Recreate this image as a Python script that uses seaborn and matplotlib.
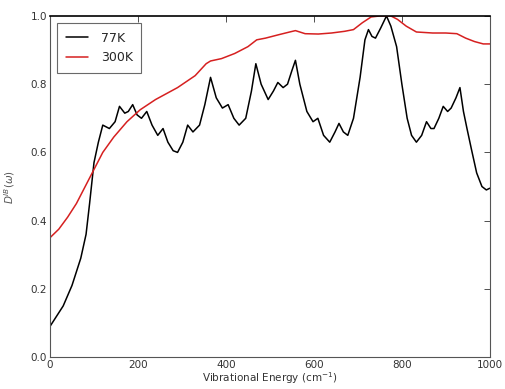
import matplotlib
matplotlib.use("Agg")
import matplotlib.pyplot as plt
import seaborn as sns
import pandas as pd

# Vibrational density of states at 77 K
energy_77 = [0, 10, 20, 30, 40, 50, 60, 70, 82, 90, 100, 110, 120, 135, 148, 158,
             170, 178, 188, 198, 208, 220, 232, 245, 257, 268, 280, 290, 302, 313,
             325, 340, 352, 365, 378, 392, 405, 418, 430, 445, 458, 468, 480, 496,
             508, 518, 530, 540, 550, 558, 568, 584, 598, 609, 622, 636, 648, 657,
             667, 677, 690, 705, 716, 724, 732, 740, 752, 765, 775, 788, 800, 812,
             822, 833, 845, 856, 866, 873, 884, 894, 904, 912, 923, 932, 940, 948,
             958, 970, 982, 992, 1000]
dos_77 = [0.09, 0.11, 0.13, 0.15, 0.18, 0.21, 0.25, 0.29, 0.36, 0.45, 0.57, 0.63,
          0.68, 0.67, 0.69, 0.735, 0.715, 0.72, 0.74, 0.71, 0.70, 0.72, 0.68, 0.65,
          0.67, 0.63, 0.605, 0.60, 0.63, 0.68, 0.66, 0.68, 0.74, 0.82, 0.76, 0.73,
          0.74, 0.70, 0.68, 0.70, 0.78, 0.86, 0.80, 0.755, 0.78, 0.805, 0.79, 0.80,
          0.84, 0.87, 0.80, 0.72, 0.69, 0.70, 0.65, 0.63, 0.66, 0.685, 0.66, 0.65,
          0.70, 0.82, 0.93, 0.96, 0.94, 0.935, 0.965, 1.00, 0.97, 0.91, 0.80, 0.70,
          0.65, 0.63, 0.65, 0.69, 0.67, 0.67, 0.70, 0.735, 0.72, 0.73, 0.76, 0.79,
          0.72, 0.67, 0.61, 0.54, 0.50, 0.49, 0.495]

# Vibrational density of states at 300 K
energy_300 = [0, 20, 40, 60, 80, 100, 120, 145, 175, 205, 240, 290, 330, 355, 365,
              390, 420, 450, 470, 490, 520, 545, 558, 580, 610, 640, 670, 690, 710,
              730, 750, 775, 790, 810, 833, 870, 900, 925, 945, 965, 985, 1000]
dos_300 = [0.35, 0.375, 0.41, 0.45, 0.50, 0.55, 0.60, 0.645, 0.69, 0.725, 0.755,
           0.79, 0.825, 0.86, 0.868, 0.875, 0.89, 0.91, 0.93, 0.935, 0.945, 0.953,
           0.957, 0.948, 0.947, 0.95, 0.955, 0.96, 0.98, 0.997, 1.0, 1.0, 0.99,
           0.97, 0.953, 0.95, 0.95, 0.948, 0.935, 0.925, 0.918, 0.918]

series_labels = ["77K", "300K"]
x_ticks = [0, 200, 400, 600, 800, 1000]
y_ticks = [0.0, 0.2, 0.4, 0.6, 0.8, 1.0]

df = pd.concat([
    pd.DataFrame({"energy": energy_77, "dos": dos_77, "T": series_labels[0]}),
    pd.DataFrame({"energy": energy_300, "dos": dos_300, "T": series_labels[1]}),
])

sns.set_style("white")
plt.rcParams["font.family"] = ["DejaVu Sans"]

fig = plt.figure(figsize=(5.05, 3.89), dpi=100)
ax = fig.add_axes([0.099, 0.082, 0.871, 0.877])

sns.lineplot(data=df, x="energy", y="dos", hue="T", sort=False,
             palette={"77K": "black", "300K": "#d62020"}, linewidth=1.1,
             estimator=None, ax=ax)

ax.set_xlim(0, 1000)
ax.set_ylim(0, 1.0)
ax.set_xticks(x_ticks)
ax.set_yticks(y_ticks)
ax.set_xticklabels([str(t) for t in x_ticks])
ax.set_yticklabels([f"{t:.1f}" for t in y_ticks])
ax.tick_params(direction="in", length=4, width=0.6, labelsize=7.5, pad=2,
               top=True, right=True, colors="#333333", labelcolor="#333333")
for s in ax.spines.values():
    s.set_color("#555555")
    s.set_linewidth(0.8)
ax.spines["top"].set_color("black")
ax.spines["top"].set_linewidth(1.2)

ax.set_xlabel("Vibrational Energy (cm$^{-1}$)", fontsize=7.5, color="#333333",
              labelpad=0.5)
ax.set_ylabel(r"$D^{IB}(\omega)$", fontsize=7.5, color="#555555", labelpad=10)

leg = ax.legend(title=None, loc="upper left", fontsize=9, frameon=True,
                fancybox=False, handlelength=1.8, handletextpad=1.0,
                borderpad=0.7, borderaxespad=0.55, labelspacing=0.55)
leg.get_frame().set_edgecolor("#444444")
leg.get_frame().set_linewidth(0.8)

fig.savefig("out.png", dpi=100, facecolor="white")
